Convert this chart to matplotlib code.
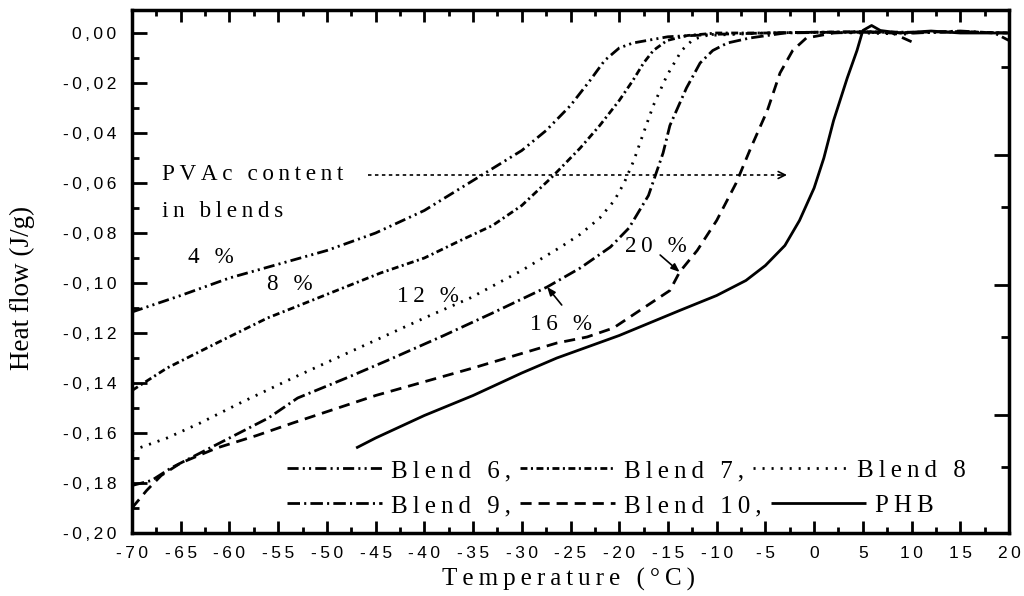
import matplotlib
matplotlib.use("Agg")
import matplotlib.pyplot as plt
from matplotlib.ticker import MultipleLocator, FuncFormatter

plt.rcParams["lines.scale_dashes"] = False

# ---------------- data ----------------
b6_x = [-70, -65, -60, -55, -50, -45, -40, -35, -30, -27.5, -25, -23, -21.5, -20, -18.6, -15, -10, -5, 0, 5, 10, 15, 20]
b6_y = [-0.1116, -0.1050, -0.098, -0.0925, -0.087, -0.080, -0.071, -0.059, -0.047, -0.039, -0.029, -0.019, -0.011,
        -0.006, -0.004, -0.0015, -0.0005, 0.0, 0.0003, 0.0003, 0.0, 0.0005, 0.0]

b7_x = [-70, -66.4, -61.3, -56.1, -53.5, -49, -44.5, -40, -36.3, -33, -30, -27, -24, -22, -20, -18.6, -17.5, -16.5,
        -15.1, -13, -10, -5, 0, 5, 10, 15, 20]
b7_y = [-0.143, -0.134, -0.124, -0.114, -0.110, -0.103, -0.096, -0.090, -0.083, -0.077, -0.069, -0.058, -0.046, -0.037,
        -0.027, -0.019, -0.012, -0.007, -0.003, -0.001, 0.0, 0.0, 0.0003, 0.0005, 0.0003, 0.0005, 0.0]

b8_x = [-70, -66.4, -63, -58.9, -53.5, -49, -44.5, -40, -35.3, -30, -26, -24, -22, -20.5, -19.5, -18.5, -17.6, -16.5,
        -15.1, -13.6, -12.4, -11, -5, 0, 5, 10]
b8_y = [-0.167, -0.162, -0.156, -0.148, -0.138, -0.130, -0.122, -0.114, -0.106, -0.095, -0.0856, -0.0805, -0.074,
        -0.067, -0.060, -0.051, -0.041, -0.029, -0.017, -0.007, -0.0025, -0.001, 0.0, 0.0003, 0.0, -0.0005]

b9_x = [-70, -68, -66, -64, -60, -56, -53, -48, -43.8, -38, -33, -27.4, -24, -20.9, -19, -17, -15.5, -14.8, -13.1, -11.7,
        -10.4, -8.9, -6.6, -3, 5, 10, 15, 18.5, 20]
b9_y = [-0.181, -0.179, -0.174, -0.170, -0.162, -0.154, -0.146, -0.138, -0.131, -0.121, -0.112, -0.1016, -0.094, -0.0856,
        -0.078, -0.065, -0.048, -0.037, -0.022, -0.012, -0.007, -0.004, -0.002, 0.0, 0.0005, 0.0, 0.0008, 0.0, -0.003]

b10_x = [-70, -68.5, -67, -65, -61.3, -57.2, -53.5, -45, -35, -26.4, -23.3, -20.6, -17.9, -14.8, -13.8, -12, -10, -8,
         -6.5, -4.8, -3.5, -2.2, -0.8, 2, 5, 8, 10]
b10_y = [-0.190, -0.183, -0.177, -0.172, -0.166, -0.161, -0.156, -0.145, -0.134, -0.124, -0.1216, -0.118, -0.111, -0.103,
         -0.0956, -0.087, -0.075, -0.060, -0.046, -0.031, -0.016, -0.007, -0.002, 0.0, 0.0005, 0.0, -0.0035]

phb_x = [-47, -45, -40, -35, -30, -26.4, -20, -13.8, -10, -7, -5, -3, -1.5, 0, 1, 2, 3.4, 4.4, 5, 5.9, 6.8, 8.8, 12, 15, 20]
phb_y = [-0.166, -0.162, -0.153, -0.145, -0.136, -0.130, -0.121, -0.111, -0.105, -0.099, -0.093, -0.085, -0.075, -0.062,
         -0.050, -0.035, -0.018, -0.007, 0.001, 0.003, 0.001, 0.0, 0.0008, 0.0, 0.0]

series = [
    ("Blend 6,", b6_x, b6_y, (0, (8, 3, 1.5, 3, 1.5, 3))),
    ("Blend 7,", b7_x, b7_y, (0, (5, 2.5, 1.5, 2.5))),
    ("Blend 8", b8_x, b8_y, (0, (1.5, 5))),
    ("Blend 9,", b9_x, b9_y, (0, (9, 3, 1.5, 3))),
    ("Blend 10,", b10_x, b10_y, (0, (8, 5))),
    ("PHB", phb_x, phb_y, "-"),
]

content_labels = ["4 %", "8 %", "12 %", "16 %", "20 %"]

SANS = ["Liberation Sans", "DejaVu Sans"]
SERIF = ["Liberation Serif", "DejaVu Serif"]


def sp(s):
    """Widen the letter spacing with thin spaces."""
    return "\u2009".join(s)


fig = plt.figure(figsize=(10.24, 5.96), dpi=100)
ax = fig.add_axes([132 / 1024, 63 / 596, 877 / 1024, 523 / 596])

for label, xs, ys, ls in series:
    ax.plot(xs, ys, color="black", lw=2.0, linestyle=ls, solid_capstyle="butt")

ax.set_xlim(-70, 20)
ax.set_ylim(-0.2, 0.0092)

# ticks
ax.xaxis.set_major_locator(MultipleLocator(5))
ax.xaxis.set_minor_locator(MultipleLocator(2.5))
ax.yaxis.set_major_locator(MultipleLocator(0.02))
ax.yaxis.set_minor_locator(MultipleLocator(0.01))


def yfmt(v, pos):
    v = round(v, 2)
    if abs(v) < 1e-9:
        v = 0.0
    return sp(f"{v:.2f}".replace(".", ","))


def xfmt(v, pos):
    return sp(f"{int(round(v))}")


ax.yaxis.set_major_formatter(FuncFormatter(yfmt))
ax.xaxis.set_major_formatter(FuncFormatter(xfmt))

ax.tick_params(axis="x", which="major", direction="in", length=8.5, width=2, top=True, pad=9)
ax.tick_params(axis="x", which="minor", direction="in", length=4.3, width=2, top=True)
ax.tick_params(axis="y", which="major", direction="in", length=10.5, width=2, right=False, pad=11.5)
ax.tick_params(axis="y", which="minor", direction="in", length=5, width=2, right=False)
for t in ax.get_xticklabels() + ax.get_yticklabels():
    t.set_fontfamily(SANS)
    t.set_fontsize(12.5)

for s in ax.spines.values():
    s.set_linewidth(2.5)

# right-hand axis carries its own tick set
ax2 = ax.twinx()
ax2.set_ylim(ax.get_ylim())
ax2.set_yticks([-0.0488, -0.1008, -0.1528, -0.2])
ax2.set_yticks([-0.0136, -0.0696, -0.1216, -0.1736], minor=True)
ax2.tick_params(axis="y", which="major", direction="in", length=10.5, width=2, labelright=False)
ax2.tick_params(axis="y", which="minor", direction="in", length=6, width=2)
for s in ax2.spines.values():
    s.set_visible(False)

# axis titles
fig.text(22 / 1024, 1 - 288 / 596, "Heat flow (J/g)", rotation=90, ha="center", va="center",
         fontsize=19.5, family=SERIF)
fig.text(569 / 1024, 1 - 579 / 596, sp("Temperature (°C)"), ha="center", va="center",
         fontsize=18, family=SERIF)

# annotations
ann_kw = dict(fontsize=16.7, family=SERIF, color="black")
ax.text(-66.9, -0.0588, sp("PVAc content"), va="baseline", ha="left", **ann_kw)
ax.text(-66.9, -0.0736, sp("in blends"), va="baseline", ha="left", **ann_kw)
ax.plot([-45.8, -3.5], [-0.0568, -0.0568], color="black", lw=1.2, linestyle=(0, (2.5, 2.5)))
ax.annotate("", xy=(-2.5, -0.0568), xytext=(-4.0, -0.0568),
            arrowprops=dict(arrowstyle="->,head_length=0.5,head_width=0.25", lw=1.2, color="black"))

label_pos = [(-64.3, -0.092), (-56.1, -0.1028), (-42.8, -0.1076), (-29.2, -0.1188), (-19.4, -0.0876)]
for txt, (lx, ly) in zip(content_labels, label_pos):
    ax.text(lx, ly, sp(txt), va="baseline", ha="left", **ann_kw)

arrow_kw = dict(arrowstyle="-|>,head_length=0.5,head_width=0.2", lw=1.2, color="black", shrinkA=0, shrinkB=0)
ax.annotate("", xy=(-27.4, -0.1016), xytext=(-25.9, -0.1088), arrowprops=arrow_kw)
ax.annotate("", xy=(-13.8, -0.0956), xytext=(-15.8, -0.0888), arrowprops=arrow_kw)

# legend laid out as two text rows
fig.canvas.draw()
renderer = fig.canvas.get_renderer()
ax_w = ax.get_window_extent(renderer).width


def px_x(p):
    return (p - 132) / 877


def px_y(p):
    return (533 - p) / 523


def legend_row(entries, line_py, base_py):
    x = px_x(287)
    for label, xs, ys, ls in entries:
        x1 = x + 95 / 877
        ax.plot([x, x1], [px_y(line_py), px_y(line_py)], transform=ax.transAxes, color="black",
                lw=2.0, linestyle=ls, clip_on=False, solid_capstyle="butt")
        x = x1 + 9 / 877
        t = ax.text(x, px_y(base_py), sp(label), transform=ax.transAxes, va="baseline", ha="left",
                    fontsize=18, family=SERIF)
        w = t.get_window_extent(renderer).width / ax_w
        x += w + 9 / 877


legend_row(series[:3], 468, 477)
legend_row(series[3:], 503, 512)

fig.savefig("out.png", dpi=100)
